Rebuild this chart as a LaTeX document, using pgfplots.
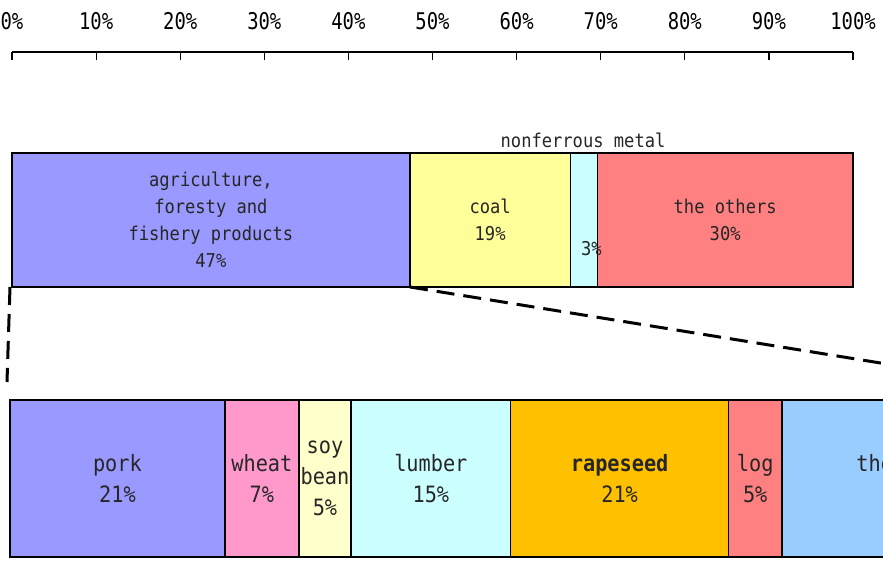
\documentclass[border=0pt]{standalone}
\usepackage{pgfplots}
\pgfplotsset{compat=1.18}
\usepackage{fontspec}
\newfontfamily\gfont[FakeStretch=0.9]{DejaVu Sans Mono}
\newfontfamily\tfont[FakeStretch=0.82]{DejaVu Sans Mono}

\definecolor{cAgri}{HTML}{9999FF}
\definecolor{cCoal}{HTML}{FFFF99}
\definecolor{cMetal}{HTML}{CCFFFF}
\definecolor{cOther}{HTML}{FF8080}
\definecolor{cWheat}{HTML}{FF99CC}
\definecolor{cSoy}{HTML}{FFFFCC}
\definecolor{cRape}{HTML}{FFC000}
\definecolor{cRest}{HTML}{99CCFF}

\tikzset{
  lbl/.style={font=\gfont\fontsize{19}{27}\selectfont, align=center, text=black!85, inner sep=0pt},
  lblb/.style={font=\gfont\fontsize{22.5}{31}\selectfont, align=center, text=black!85, inner sep=0pt},
}

\begin{document}
\begin{tikzpicture}[x=1pt,y=1pt]
\useasboundingbox (0,0) rectangle (883,562);
\clip (0,0) rectangle (883,562);

% whole export: one stacked bar
\begin{axis}[
  at={(12pt,275pt)}, anchor=south west,
  scale only axis, width=841pt, height=235pt,
  xmin=0, xmax=100, ymin=0, ymax=235,
  xbar stacked, bar width=134pt, clip=false,
  axis y line=none, axis x line*=top,
  axis line style={-, line width=1.2pt},
  xtick={0,10,...,100},
  xticklabels={0\%,10\%,20\%,30\%,40\%,50\%,60\%,70\%,80\%,90\%,100\%},
  xtick align=inside, major tick length=8pt,
  tick style={black, line width=1.2pt},
  /pgf/number format/assume math mode=true,
  xticklabel style={font=\tfont\fontsize{23}{23}\selectfont, yshift=19pt},
  every axis plot/.append style={draw=black, line width=1.6pt},
]
\addplot[fill=cAgri]  coordinates {(47.3,67)};
\addplot[fill=cCoal]  coordinates {(19.1,67)};
\addplot[fill=cMetal] coordinates {(3.2,67)};
\addplot[fill=cOther] coordinates {(30.4,67)};

\coordinate (t1) at (axis cs:23.65,67);
\coordinate (t2) at (axis cs:56.85,67);
\coordinate (t3) at (axis cs:68.9,38);
\coordinate (t3n) at (axis cs:67.9,147);
\coordinate (t4) at (axis cs:84.8,67);
\end{axis}

% breakdown of agriculture, foresty and fishery products
\begin{axis}[
  at={(10pt,5pt)}, anchor=south west,
  scale only axis, width=1043pt, height=157pt,
  xmin=0, xmax=100, ymin=0, ymax=157,
  xbar stacked, bar width=157pt, clip=false,
  axis lines=none,
  every axis plot/.append style={draw=black, line width=1.6pt},
]
\addplot[fill=cAgri]  coordinates {(20.6,78.5)};
\addplot[fill=cWheat] coordinates {(7.1,78.5)};
\addplot[fill=cSoy]   coordinates {(5.0,78.5)};
\addplot[fill=cMetal] coordinates {(15.3,78.5)};
\addplot[fill=cRape]  coordinates {(20.9,78.5)};
\addplot[fill=cOther] coordinates {(5.1,78.5)};
\addplot[fill=cRest]  coordinates {(26.0,78.5)};

\coordinate (b1) at (axis cs:10.3,78.5);
\coordinate (b2) at (axis cs:24.15,78.5);
\coordinate (b3) at (axis cs:30.2,78.5);
\coordinate (b4) at (axis cs:40.35,78.5);
\coordinate (b5) at (axis cs:58.45,78.5);
\coordinate (b6) at (axis cs:71.45,78.5);
\coordinate (b7) at (axis cs:87.0,78.5);
\end{axis}

\node[lbl] at (t1) {agriculture,\\foresty and\\fishery products\\47\%};
\node[lbl] at (t2) {coal\\19\%};
\node[lbl] at (t3) {3\%};
\node[lbl] at (t3n) {nonferrous metal};
\node[lbl] at (t4) {the others\\30\%};

\node[lblb] at (b1) {pork\\21\%};
\node[lblb] at (b2) {wheat\\7\%};
\node[lblb] at (b3) {soy\\bean\\5\%};
\node[lblb] at (b4) {lumber\\15\%};
\node[lblb] at (b5) {\bfseries rapeseed\\21\%};
\node[lblb] at (b6) {log\\5\%};
\node[lblb] at (b7) {the others\\26\%};

\draw[line width=3pt, dash pattern=on 18pt off 9pt] (10,275) -- (7,180);
\draw[line width=3pt, dash pattern=on 18pt off 9pt] (410,275) -- (1000,179.7);
\end{tikzpicture}
\end{document}
